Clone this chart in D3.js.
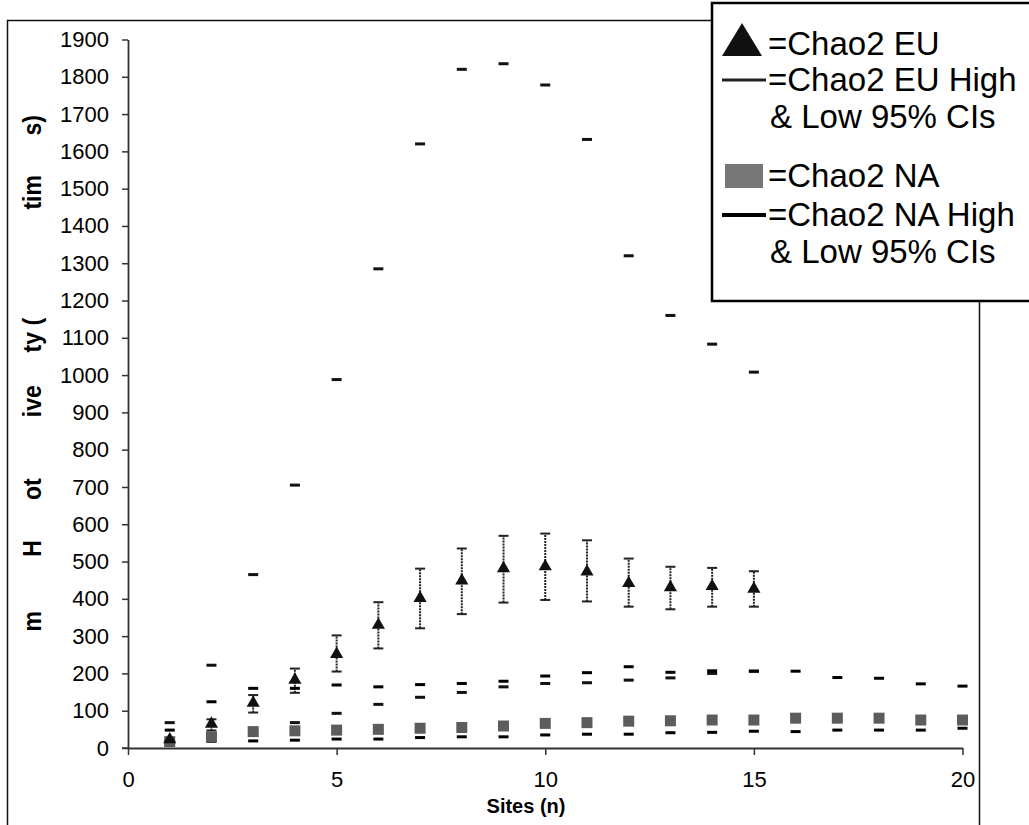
<!DOCTYPE html>
<html>
<head>
<meta charset="utf-8">
<script src="https://cdn.jsdelivr.net/npm/d3@7"></script>
<style>
  body { margin: 0; background: #fff; }
  svg { display: block; font-family: Arial, "Liberation Sans", sans-serif; }
</style>
</head>
<body>
<svg id="chart" width="1029" height="825"></svg>
<script>
// sites sampled
var sites = d3.range(1, 21);

// Chao2 EU mean + error bar ends (sites 1..15)
var euMean    = [20, 62, 118, 180, 249, 327, 399, 446, 479, 484, 470, 439, 428, 431, 424];
var euErrLow  = [15, 47, 95, 148, 205, 267, 321, 359, 390, 397, 393, 379, 372, 379, 379];
var euErrHigh = [25, 77, 142, 213, 302, 391, 481, 535, 569, 575, 557, 508, 486, 483, 474];

// Chao2 EU high / low 95% CIs (sites 1..15)
var euHighCI = [68, 222, 465, 705, 988, 1285, 1620, 1820, 1835, 1778, 1632, 1320, 1160, 1083, 1008];
var euLowCI  = [20, 38, 45, 68, 93, 117, 136, 149, 164, 173, 175, 182, 188, 200, 206];

// Chao2 NA mean and high / low 95% CIs (sites 1..20)
var naMean   = [17, 30, 44, 46, 48, 50, 53, 55, 59, 66, 68, 72, 73, 75, 75, 80, 80, 80, 75, 75];
var naHighCI = [48, 124, 160, 160, 169, 164, 170, 173, 179, 193, 202, 218, 203, 207, 206, 206, 189, 187, 172, 166];
var naLowCI  = [10, 18, 19, 21, 24, 24, 28, 30, 30, 35, 37, 37, 41, 42, 45, 44, 48, 48, 48, 53];

var xTicks = [0, 5, 10, 15, 20];
var yTicks = d3.range(0, 2000, 100);

// what survives of the y title in the scan, with the value level it sits at
var yTitleBits = [["m", 340], ["H", 535], ["ot", 694], ["ive", 930], ["ty (", 1107], ["tim", 1490], ["s)", 1670]];

var legendRows = [
  {kind: "tri",  lines: ["=Chao2 EU"]},
  {kind: "lineEU", lines: ["=Chao2 EU High", "& Low 95% CIs"]},
  {kind: "sq",   lines: ["=Chao2 NA"]},
  {kind: "lineNA", lines: ["=Chao2 NA High", "& Low 95% CIs"]}
];

var svg = d3.select("#chart");

var x = d3.scaleLinear().domain([0, 20]).range([128, 962.5]);
var y = d3.scaleLinear().domain([0, 1900]).range([748, 39.5]);

// outer chart border
svg.append("rect")
  .attr("x", 7.5).attr("y", 20.5).attr("width", 972).attr("height", 830)
  .attr("fill", "none").attr("stroke", "#111").attr("stroke-width", 1.5);

// axes
var yAxis = svg.append("g")
  .attr("transform", "translate(" + x(0) + ",0)")
  .call(d3.axisLeft(y).tickValues(yTicks).tickFormat(d3.format("d"))
    .tickSize(6).tickSizeOuter(0).tickPadding(13));
var xAxis = svg.append("g")
  .attr("transform", "translate(0," + y(0) + ")")
  .call(d3.axisBottom(x).tickValues(xTicks).tickSize(7).tickSizeOuter(0).tickPadding(16));

[yAxis, xAxis].forEach(function(g) {
  g.select(".domain").attr("stroke", "#333").attr("stroke-width", 1.8);
  g.selectAll(".tick line").attr("stroke", "#333").attr("stroke-width", 1.5);
  g.selectAll(".tick text").attr("fill", "#000").style("font-size", "22px")
    .style("font-family", "Arial, 'Liberation Sans', sans-serif");
});
// the axes cross a little past the origin
svg.append("line").attr("x1", 122).attr("x2", x(0)).attr("y1", y(0)).attr("y2", y(0))
  .attr("stroke", "#333").attr("stroke-width", 1.5);

// axis titles
svg.append("text")
  .attr("x", 526).attr("y", 813)
  .attr("text-anchor", "middle")
  .style("font-weight", "bold").style("font-size", "20px")
  .text("Sites (n)");

svg.append("g").selectAll("text")
  .data(yTitleBits)
  .join("text")
  .attr("transform", function(d) { return "translate(41," + y(d[1]) + ") rotate(-90) scale(1.15,1.3)"; })
  .attr("text-anchor", "middle")
  .style("font-weight", "bold").style("font-size", "20px")
  .text(function(d) { return d[0]; });

var plot = svg.append("g");

// EU error bars
var euSites = sites.slice(0, 15);
var bars = plot.append("g").selectAll("g")
  .data(euSites)
  .join("g");
bars.append("line")
  .attr("x1", function(d) { return x(d); }).attr("x2", function(d) { return x(d); })
  .attr("y1", function(d, i) { return y(euErrLow[i]); })
  .attr("y2", function(d, i) { return y(euErrHigh[i]); })
  .attr("stroke", "#222").attr("stroke-width", 2).attr("stroke-dasharray", "2,1");
[euErrLow, euErrHigh].forEach(function(arr) {
  bars.append("line")
    .attr("x1", function(d) { return x(d) - 5; }).attr("x2", function(d) { return x(d) + 5; })
    .attr("y1", function(d, i) { return y(arr[i]); })
    .attr("y2", function(d, i) { return y(arr[i]); })
    .attr("stroke", "#222").attr("stroke-width", 2);
});

// CI dashes
function dashes(xs, vals, col) {
  plot.append("g").selectAll("rect")
    .data(xs)
    .join("rect")
    .attr("x", function(d) { return x(d) - 5; })
    .attr("y", function(d, i) { return y(vals[i]) - 1.5; })
    .attr("width", 10).attr("height", 3)
    .attr("fill", col);
}
dashes(euSites, euHighCI, "#111");
dashes(euSites, euLowCI, "#111");
dashes(sites, naHighCI, "#000");
dashes(sites, naLowCI, "#000");

// NA squares
plot.append("g").selectAll("rect")
  .data(sites)
  .join("rect")
  .attr("x", function(d) { return x(d) - 5.5; })
  .attr("y", function(d, i) { return y(naMean[i]) - 5.5; })
  .attr("width", 11).attr("height", 11)
  .attr("fill", "#5c5c5c");

// EU triangles
var tri = d3.symbol().type(d3.symbolTriangle).size(75);
plot.append("g").selectAll("path")
  .data(euSites)
  .join("path")
  .attr("transform", function(d, i) { return "translate(" + x(d) + "," + (y(euMean[i]) - 1) + ")"; })
  .attr("d", tri)
  .attr("fill", "#111");

// legend
var lg = svg.append("g");
lg.append("rect")
  .attr("x", 712).attr("y", 3).attr("width", 330).attr("height", 298)
  .attr("fill", "#fff").attr("stroke", "#000").attr("stroke-width", 2.5);

var rowTop = [55, 91, 187, 226];
var lineGap = 36.5;
legendRows.forEach(function(r, i) {
  var base = rowTop[i];
  r.lines.forEach(function(t, j) {
    lg.append("text")
      .attr("x", j == 0 ? 768 : 770).attr("y", base + j * lineGap)
      .style("font-size", "33px")
      .text(t);
  });
  var cy = base - 11;
  if (r.kind == "tri") {
    lg.append("path")
      .attr("d", "M722," + (cy + 12) + "L742," + (cy - 21) + "L762," + (cy + 12) + "Z")
      .attr("fill", "#111");
  } else if (r.kind == "sq") {
    lg.append("rect").attr("x", 725).attr("y", cy - 12).attr("width", 38).attr("height", 24)
      .attr("fill", "#777");
  } else {
    lg.append("line").attr("x1", 722).attr("x2", 766).attr("y1", cy).attr("y2", cy)
      .attr("stroke", r.kind == "lineEU" ? "#222" : "#000")
      .attr("stroke-width", r.kind == "lineEU" ? 3 : 4);
  }
});
</script>
</body>
</html>
